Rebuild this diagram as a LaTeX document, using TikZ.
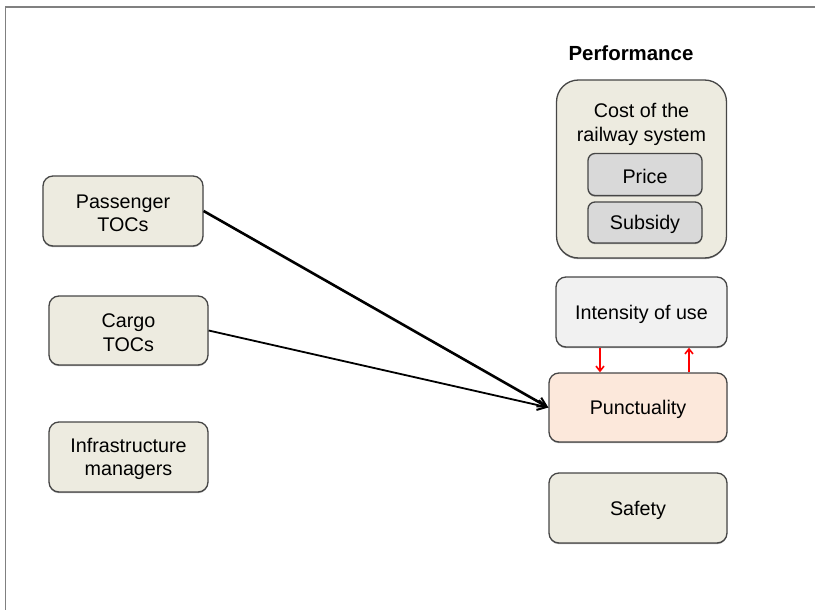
\documentclass[tikz,border=0pt]{standalone}
\usepackage{fontspec}
\setmainfont{Liberation Sans}
\usetikzlibrary{arrows.meta,shadows}
\definecolor{beige}{RGB}{237,235,224}
\definecolor{greyfill}{RGB}{217,217,217}
\definecolor{lightfill}{RGB}{241,241,241}
\definecolor{peach}{RGB}{252,232,219}
\definecolor{edge}{RGB}{70,70,70}
\definecolor{frame}{RGB}{128,128,128}
\newcommand{\topstrut}{\rule{0pt}{18.5bp}}
\tikzset{
  box/.style={draw=edge, line width=1.3bp, rounded corners=10bp, fill=beige,
    align=center, inner sep=0pt, font=\fontsize{19.8}{23.5}\selectfont,
    execute at begin node={\topstrut},
    drop shadow={shadow xshift=0bp, shadow yshift=-1.2bp, opacity=0.6, fill=black!60}},
  inbox/.style={box, fill=greyfill, rounded corners=7bp},
  flow/.style={draw=black, -{Straight Barb[length=9bp,width=10bp,line width=2bp]}},
  redarrow/.style={draw=red, line width=1.6bp, -{Straight Barb[length=5bp,width=8bp]}},
}
\begin{document}
\begin{tikzpicture}[x=1bp,y=-1bp]
\useasboundingbox (0,0) rectangle (815,610);
\draw[frame, line width=1.5bp] (5.5,611) -- (5.5,7) -- (816,7);

\node[font=\bfseries\fontsize{20.5}{24}\selectfont] (perf) at (631,53) {Performance};

% left boxes
\node[box, minimum width=160bp, minimum height=70bp] (pass) at (123,211) {\topstrut Passenger\\TOCs};
\node[box, minimum width=159bp, minimum height=69bp] (cargo) at (128.5,330.5) {\topstrut Cargo\\TOCs};
\node[box, minimum width=159bp, minimum height=70bp] (infra) at (128.5,457) {\topstrut Infrastructure\\managers};

% cost box
\node[box, rounded corners=22bp, minimum width=170bp, minimum height=178bp] (cost) at (641.5,169) {};
\node[font=\fontsize{19.8}{24}\selectfont, align=center] (costtxt) at (641.5,124) {Cost of the\\railway system};
\node[inbox, minimum width=114bp, minimum height=42bp] (price) at (645,174.5) {Price};
\node[inbox, minimum width=114bp, minimum height=41bp] (subsidy) at (645,222.5) {Subsidy};

% right boxes
\node[box, fill=lightfill, minimum width=171bp, minimum height=70bp] (intens) at (641.5,312) {Intensity of use};
\node[box, fill=peach, minimum width=178bp, minimum height=69bp] (punct) at (638,407.5) {Punctuality};
\node[box, minimum width=178bp, minimum height=70bp] (safety) at (638,508) {Safety};

% connectors
\draw[flow, line width=2.6bp] (pass.east) -- (punct.west);
\draw[flow, line width=1.8bp] (cargo.east) -- (punct.west);
\draw[redarrow] (intens.south -| 600,0) -- (punct.north -| 600,0);
\draw[redarrow] (punct.north -| 689,0) -- (intens.south -| 689,0);
\end{tikzpicture}
\end{document}
